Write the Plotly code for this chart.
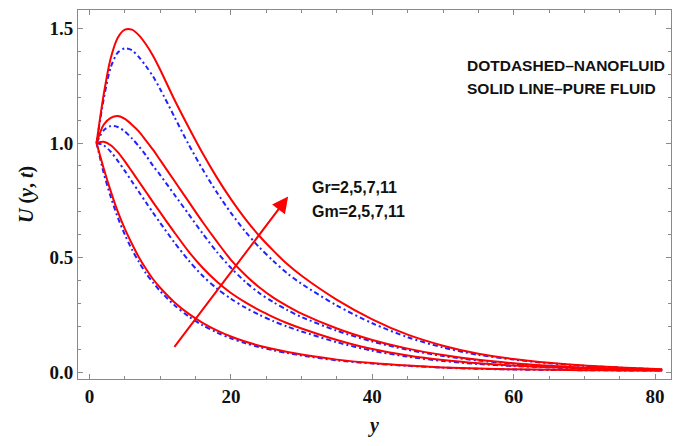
import plotly.graph_objects as go

# x positions (y coordinate in the chart)
y_pos = [1, 2, 3, 4, 5, 6, 7, 8, 9, 10, 12, 14, 16, 18, 20, 22, 24, 26, 28, 30, 35, 40, 45, 50, 55, 60, 65, 70, 75, 81]

# Pure fluid (solid red), Gr=Gm=2,5,7,11
pure_gr2 = [1.0, 0.89, 0.79, 0.70, 0.625, 0.56, 0.50, 0.45, 0.405, 0.368, 0.305, 0.255, 0.215, 0.182, 0.155, 0.133, 0.115, 0.10, 0.087, 0.076, 0.054, 0.039, 0.028, 0.02, 0.015, 0.012, 0.01, 0.008, 0.007, 0.006]
pure_gr5 = [1.0, 1.005, 0.99, 0.96, 0.92, 0.876, 0.831, 0.786, 0.741, 0.697, 0.61, 0.527, 0.455, 0.395, 0.345, 0.305, 0.27, 0.24, 0.213, 0.19, 0.14, 0.10, 0.072, 0.052, 0.038, 0.028, 0.021, 0.016, 0.012, 0.009]
pure_gr7 = [1.0, 1.08, 1.11, 1.118, 1.105, 1.08, 1.05, 1.01, 0.97, 0.925, 0.835, 0.745, 0.655, 0.57, 0.49, 0.425, 0.37, 0.325, 0.288, 0.255, 0.19, 0.14, 0.102, 0.074, 0.053, 0.038, 0.027, 0.019, 0.014, 0.01]
pure_gr11 = [1.0, 1.21, 1.37, 1.46, 1.495, 1.495, 1.47, 1.43, 1.38, 1.32, 1.19, 1.07, 0.955, 0.85, 0.755, 0.67, 0.595, 0.53, 0.47, 0.42, 0.315, 0.23, 0.163, 0.115, 0.08, 0.057, 0.04, 0.028, 0.02, 0.012]

# Nanofluid (dot-dashed blue)
nano_gr2 = [1.0, 0.87, 0.765, 0.675, 0.60, 0.535, 0.48, 0.43, 0.39, 0.353, 0.292, 0.243, 0.204, 0.173, 0.147, 0.126, 0.109, 0.095, 0.083, 0.072, 0.051, 0.037, 0.027, 0.019, 0.014, 0.011, 0.009, 0.008, 0.007, 0.006]
nano_gr5 = [1.0, 0.99, 0.962, 0.922, 0.878, 0.832, 0.786, 0.74, 0.695, 0.651, 0.566, 0.488, 0.42, 0.365, 0.32, 0.282, 0.25, 0.222, 0.198, 0.177, 0.13, 0.093, 0.067, 0.048, 0.035, 0.026, 0.02, 0.015, 0.011, 0.008]
nano_gr7 = [1.0, 1.055, 1.074, 1.07, 1.05, 1.02, 0.985, 0.945, 0.90, 0.86, 0.775, 0.69, 0.605, 0.525, 0.455, 0.395, 0.345, 0.305, 0.27, 0.24, 0.18, 0.133, 0.097, 0.07, 0.05, 0.036, 0.026, 0.018, 0.013, 0.009]
nano_gr11 = [1.0, 1.19, 1.33, 1.395, 1.413, 1.405, 1.375, 1.335, 1.29, 1.235, 1.115, 0.995, 0.885, 0.785, 0.695, 0.615, 0.545, 0.485, 0.43, 0.385, 0.29, 0.213, 0.152, 0.107, 0.075, 0.054, 0.038, 0.027, 0.019, 0.011]

pure = [pure_gr2, pure_gr5, pure_gr7, pure_gr11]
nano = [nano_gr2, nano_gr5, nano_gr7, nano_gr11]

x_ticks = [0, 20, 40, 60, 80]
y_ticks = [0.0, 0.5, 1.0, 1.5]
y_tick_labels = ["0.0", "0.5", "1.0", "1.5"]

fig = go.Figure()
for s in nano:
    fig.add_trace(go.Scatter(x=y_pos, y=s, mode="lines",
                             line=dict(color="#2222ff", width=2, dash="5px,3px,2px,3px", shape="spline", smoothing=0.8),
                             showlegend=False, hoverinfo="skip"))
for s in pure:
    fig.add_trace(go.Scatter(x=y_pos, y=s, mode="lines",
                             line=dict(color="#ff0000", width=2, shape="spline", smoothing=0.8),
                             showlegend=False, hoverinfo="skip"))

# page body has an 8px margin, so the figure is drawn 8px right/down
OFF = 8
W, H = 664, 430
ml, mr, mt, mb = 70, 1, 2, 59
pw, ph = W - ml - mr, H - mt - mb

# pixel -> data mapping measured on the reference (screen coords)
x0_px, x_scale = 89.5 - OFF, 7.07
y0_px, y_scale = 372 - OFF, 229.0
x_range = [(ml - x0_px) / x_scale, (W - mr - x0_px) / x_scale]
y_range = [(y0_px - (H - mb)) / y_scale, (y0_px - mt) / y_scale]

tickfont = dict(family="Liberation Serif", size=19, color="#111")
axcommon = dict(showline=True, linecolor="#8a8a8a", linewidth=1, mirror="ticks",
                ticks="inside", ticklen=5, tickcolor="#8a8a8a", tickwidth=1,
                showgrid=False, zeroline=False, tickfont=tickfont, automargin=False)

fig.update_xaxes(range=x_range, tickvals=x_ticks, ticktext=["<b>%d</b>" % v for v in x_ticks],
                 minor=dict(dtick=5, ticks="inside", ticklen=3, tickcolor="#8a8a8a", showgrid=False),
                 **axcommon)
fig.update_yaxes(range=y_range, tickvals=y_ticks, ticktext=["<b>%s</b>" % t for t in y_tick_labels],
                 minor=dict(dtick=0.1, ticks="inside", ticklen=3, tickcolor="#8a8a8a", showgrid=False),
                 **axcommon)

def px(xs):
    return (xs - OFF - ml) / pw

def py(ys):
    return 1 - (ys - OFF - mt) / ph

capsfont = dict(family="Liberation Sans", size=15.5, color="#111")
grfont = dict(family="Liberation Sans", size=16, color="#111")
annots = [
    dict(x=28.1, y=0.766, ax=11.85, ay=0.103, xref="x", yref="y", axref="x", ayref="y",
         showarrow=True, arrowhead=2, arrowsize=1.6, arrowwidth=2, arrowcolor="#ff0000", text=""),
    dict(x=px(465), y=py(66), xref="paper", yref="paper", text="<b>DOTDASHED\u2013NANOFLUID</b>",
         showarrow=False, xanchor="left", yanchor="middle", font=capsfont),
    dict(x=px(465), y=py(89), xref="paper", yref="paper", text="<b>SOLID LINE\u2013PURE FLUID</b>",
         showarrow=False, xanchor="left", yanchor="middle", font=capsfont),
    dict(x=px(310), y=py(187.5), xref="paper", yref="paper", text="<b>Gr=2,5,7,11</b>",
         showarrow=False, xanchor="left", yanchor="middle", font=grfont),
    dict(x=px(310), y=py(211), xref="paper", yref="paper", text="<b>Gm=2,5,7,11</b>",
         showarrow=False, xanchor="left", yanchor="middle", font=grfont),
    dict(x=px(373), y=py(426), xref="paper", yref="paper", text="<b><i>y</i></b>", showarrow=False,
         xanchor="center", yanchor="middle",
         font=dict(family="Liberation Serif", size=20, color="#111")),
    dict(x=px(27), y=py(195), xref="paper", yref="paper", text="<b><i>U</i> (<i>y</i>, <i>t</i>)</b>",
         showarrow=False, textangle=-90, xanchor="center", yanchor="middle",
         font=dict(family="Liberation Serif", size=20, color="#111")),
]

fig.update_layout(width=W, height=H, margin=dict(l=ml, r=mr, t=mt, b=mb, autoexpand=False),
                  plot_bgcolor="white", paper_bgcolor="white", annotations=annots)

fig.write_html("out.html")
